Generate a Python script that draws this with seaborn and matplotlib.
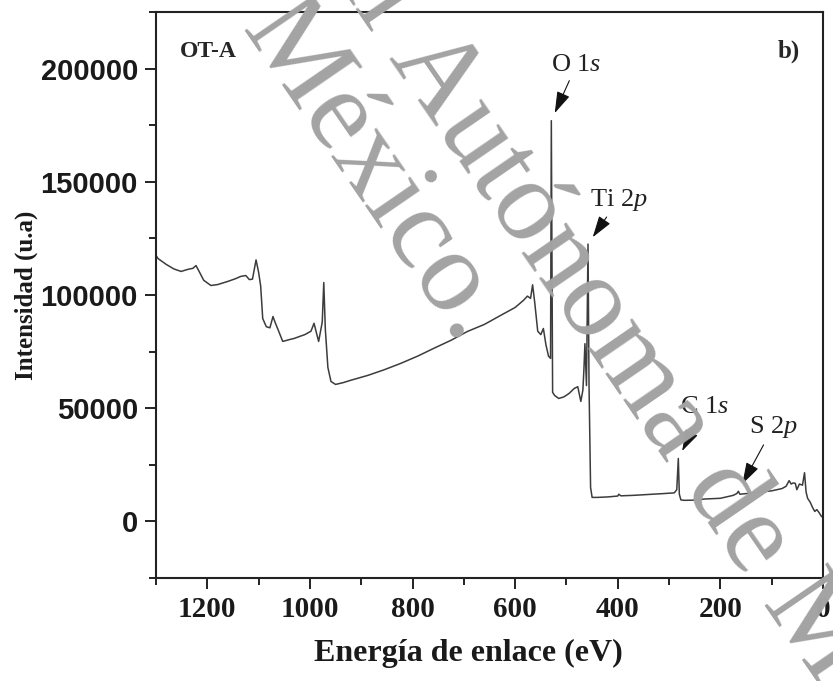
import numpy as np
import pandas as pd
import matplotlib
matplotlib.use("Agg")
import matplotlib.pyplot as plt
from matplotlib.ticker import MultipleLocator
import seaborn as sns

# XPS survey spectrum of sample OT-A
energy = [1300, 1296, 1280, 1265, 1251, 1240, 1228, 1222, 1215, 1207, 1193, 1180,
          1160, 1145, 1135, 1125, 1118, 1112, 1105, 1100, 1096, 1092, 1085, 1078,
          1072, 1068, 1063, 1053, 1040, 1031, 1010, 998, 992, 987, 983, 976, 973,
          970, 965, 959, 950, 935, 921, 887, 855, 823, 790, 759, 725, 693, 660,
          629, 600, 584, 576, 570, 566, 562, 556, 550, 545, 540, 535, 531, 529.5,
          527, 523, 515, 505, 495, 485, 478, 472, 468, 466, 464, 461, 458, 456,
          453, 450, 440, 420, 400, 398, 394, 370, 340, 310, 290, 285, 282, 280,
          277, 270, 250, 230, 200, 175, 168, 165, 162, 140, 120, 100, 80, 72, 66,
          62, 58, 54, 51, 46, 40, 36, 33, 30, 25, 20, 16, 12, 8, 3, 0]
intensity = [117500, 116100, 113500, 111500, 110400, 111200, 111800, 113000, 110000,
             106500, 104200, 104600, 106000, 107200, 108200, 108600, 106800, 107000,
             115500, 110000, 104000, 89600, 86000, 85500, 90500, 88000, 85200, 79500,
             80300, 80800, 82500, 84000, 87500, 83000, 79500, 88000, 105500, 85000,
             68000, 61800, 60500, 61300, 62300, 64500, 67000, 69800, 73000, 76400,
             80000, 83900, 87000, 90900, 94500, 97600, 99500, 98500, 104500, 97000,
             84000, 82500, 85200, 78000, 73000, 72000, 177000, 57000, 55600, 54300,
             55000, 56500, 58700, 59500, 53000, 58000, 67000, 78500, 60000, 122500,
             60000, 15000, 10600, 10600, 10800, 11200, 12000, 11300, 11500, 11900,
             12300, 12600, 14000, 27800, 12000, 9500, 9300, 9400, 9900, 10200, 11500,
             12300, 13300, 12000, 12500, 13000, 13500, 14500, 15500, 18000, 16500,
             17000, 16800, 14000, 16500, 16000, 21500, 13000, 10200, 8500, 6000,
             4400, 5200, 4000, 2200, 1800]

peak_labels = ["O", "Ti", "C", "S"]
peak_orbitals = ["1s", "2p", "1s", "2p"]
peak_energy = [529.5, 458, 282, 165]
peak_intensity = [177000, 122500, 27800, 13300]

x_ticks = [1200, 1000, 800, 600, 400, 200, 0]
y_ticks = [0, 50000, 100000, 150000, 200000]

df = pd.DataFrame({"energy": energy, "intensity": intensity})

sns.set_theme(style="ticks")
plt.rcParams["font.family"] = ["Liberation Serif", "DejaVu Serif"]
plt.rcParams["mathtext.fontset"] = "custom"
plt.rcParams["mathtext.rm"] = "Liberation Serif"
plt.rcParams["mathtext.it"] = "Liberation Serif:italic"

fig = plt.figure(figsize=(8.33, 6.81), dpi=100)
ax = fig.add_axes([156 / 833, 1 - 578 / 681, 667 / 833, 566 / 681])

sns.lineplot(data=df, x="energy", y="intensity", ax=ax, sort=False,
             estimator=None, color="#3c3c3c", linewidth=1.1)

ax.set_xlim(1300, 0)
ax.set_ylim(-25000, 225000)
ax.set_xticks(x_ticks)
ax.set_yticks(y_ticks)
ax.xaxis.set_minor_locator(MultipleLocator(100))
ax.yaxis.set_minor_locator(MultipleLocator(25000))
ax.set_xticklabels([str(v) for v in x_ticks], fontsize=21, fontweight="bold",
                   family="Liberation Serif")
ax.set_yticklabels([str(v) for v in y_ticks], fontsize=21, fontweight="bold",
                   family="Liberation Sans")
ax.tick_params(which="major", direction="out", length=8, width=1.4, color="#222222",
               pad=5, colors="#1a1a1a")
ax.tick_params(axis="x", which="major", pad=5)
ax.tick_params(which="minor", direction="out", length=5, width=1.4, color="#222222")
for side in ax.spines.values():
    side.set_linewidth(1.5)
    side.set_color("#222222")

ax.set_xlabel("Energía de enlace (eV)", fontsize=23, fontweight="bold",
              color="#1a1a1a")
ax.xaxis.set_label_coords(0.4686, -0.108)
ax.set_ylabel("Intensidad (u.a)", fontsize=18, fontweight="bold",
              color="#1a1a1a")
ax.yaxis.set_label_coords(-0.177, 0.5)

ax.text(0.036, 0.93, "OT-A", transform=ax.transAxes, fontsize=17,
        fontweight="bold", ha="left", va="center")
ax.text(0.966, 0.93, "b)", transform=ax.transAxes, fontsize=18,
        fontweight="bold", ha="right", va="center")

# label offsets (text centre relative to the peak top, in points)
offsets = [(18, 40), (22, 32), (19, 37), (25, 46)]
for el, orb, e, v, off in zip(peak_labels, peak_orbitals, peak_energy,
                              peak_intensity, offsets):
    ax.annotate(el + " $\\it{" + orb + "}$", xy=(e, v), xytext=off,
                textcoords="offset points", fontsize=19, ha="center",
                va="center", color="#222222",
                arrowprops=dict(arrowstyle="-|>,head_length=0.7,head_width=0.22",
                                color="#111111", lw=0.8, shrinkA=1, shrinkB=6))

# repository watermark
wm = dict(fontsize=84, color="#a3a3a3", rotation=-55.5, rotation_mode="anchor",
          family="Liberation Serif", va="baseline", zorder=10)
fig.text(460 / 833, 1 - 345 / 681, "Universidad Nacional Autónoma de México.",
         ha="right", **wm)
fig.text(388 / 833, 1 - 58 / 681, "Universidad Nacional ", ha="right", **wm)
fig.text(388 / 833, 1 - 58 / 681, "Autónoma de México.", ha="left", **wm)

fig.savefig("out.png", dpi=100, facecolor="white")
